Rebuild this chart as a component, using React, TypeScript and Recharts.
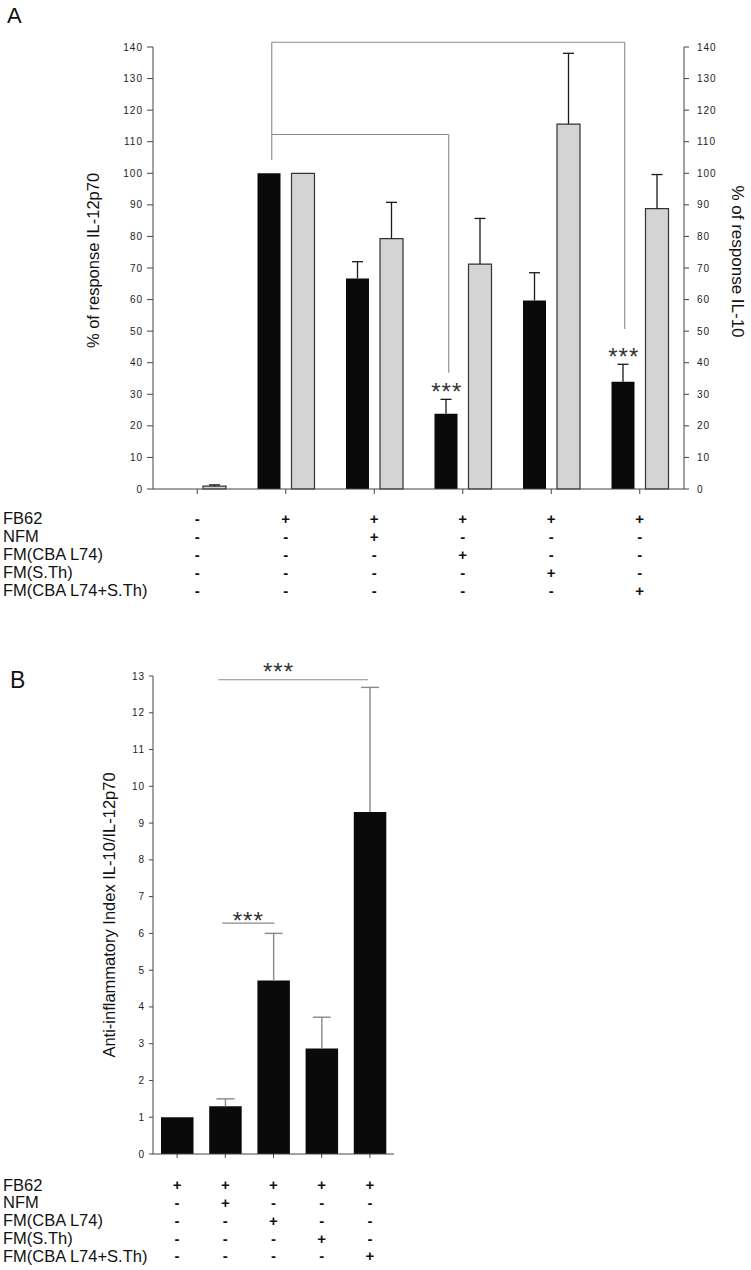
import { BarChart, Bar, XAxis, YAxis, ErrorBar, ReferenceLine, ReferenceDot } from 'recharts';

// panel A: % of response, IL-12p70 (black, left axis) and IL-10 (grey, right axis)
const conditionsA = ['Medium', 'FB62', 'FB62+NFM', 'FB62+FM(CBA L74)', 'FB62+FM(S.Th)', 'FB62+FM(CBA L74+S.Th)'];
const il12Pct = [0, 100, 66.7, 23.8, 59.7, 34.0];
const il12Sem = [null, null, 5.3, 4.6, 8.8, 5.5];
const il10Pct = [0.9, 100, 79.3, 71.2, 115.6, 88.8];
const il10Sem = [0.4, null, 11.5, 14.5, 22.4, 10.8];
const ticksA = [0, 10, 20, 30, 40, 50, 60, 70, 80, 90, 100, 110, 120, 130, 140];

// panel B: anti-inflammatory index IL-10/IL-12p70
const conditionsB = ['FB62', 'FB62+NFM', 'FB62+FM(CBA L74)', 'FB62+FM(S.Th)', 'FB62+FM(CBA L74+S.Th)'];
const indexB = [1.0, 1.3, 4.72, 2.87, 9.3];
const indexSem = [null, 0.2, 1.28, 0.85, 3.39];
const ticksB = [0, 1, 2, 3, 4, 5, 6, 7, 8, 9, 10, 11, 12, 13];

// treatment table under each panel
const rowLabels = ['FB62', 'NFM', 'FM(CBA L74)', 'FM(S.Th)', 'FM(CBA L74+S.Th)'];
const signsA = [
  ['-', '+', '+', '+', '+', '+'],
  ['-', '-', '+', '-', '-', '-'],
  ['-', '-', '-', '+', '-', '-'],
  ['-', '-', '-', '-', '+', '-'],
  ['-', '-', '-', '-', '-', '+'],
];
const signsB = [
  ['+', '+', '+', '+', '+'],
  ['-', '+', '-', '-', '-'],
  ['-', '-', '+', '-', '-'],
  ['-', '-', '-', '+', '-'],
  ['-', '-', '-', '-', '+'],
];

// one-sided (upper) error bars
const dataA = conditionsA.map((c, i) => ({
  c,
  il12: il12Pct[i],
  il12Err: il12Sem[i] == null ? null : [0, il12Sem[i]],
  il10: il10Pct[i],
  il10Err: il10Sem[i] == null ? null : [0, il10Sem[i]],
}));

const dataB = conditionsB.map((c, i) => ({
  c,
  idx: indexB[i],
  idxErr: indexSem[i] == null ? null : [0, indexSem[i]],
}));

const FONT = '"Liberation Sans", Arial, Helvetica, sans-serif';
const AXIS = '#444';
const BRACKET = '#8a8a8a';

function signTick(cats: string[], rows: string[][], first: number, step: number) {
  return (p: any) => {
    const i = cats.indexOf(p.payload.value);
    return (
      <g>
        {rows.map((r, k) => (
          <text key={k} x={p.x} y={p.y + first + k * step} textAnchor="middle" fontSize={15} fontWeight="bold" fill="#111">
            {r[i]}
          </text>
        ))}
      </g>
    );
  };
}

const seg = (dx1: number, dx2: number) => (p: any) =>
  <line x1={p.x1 + dx1} y1={p.y1} x2={p.x2 + dx2} y2={p.y2} stroke={BRACKET} strokeWidth={1.1} />;

const stars = (dx: number) => (p: any) => (
  <text x={p.cx + dx} y={p.cy + 13} textAnchor="middle" fontSize={24} letterSpacing={1} fill="#333">***</text>
);

const tickStyle = { fontSize: 10, fill: '#222', letterSpacing: 1 };

function PanelA() {
  return (
    <BarChart width={751} height={610} data={dataA} margin={{ top: 47, right: 7, bottom: 11, left: 93 }} barSize={23} barGap={11}>
      <XAxis dataKey="c" height={110} interval={0} tickSize={5} tickMargin={0} stroke={AXIS}
        tick={signTick(conditionsA, signsA, 30, 17.9)} />
      <YAxis yAxisId="l" width={60} domain={[0, 140]} ticks={ticksA} interval={0} tickSize={6} tickMargin={4}
        stroke={AXIS} tick={tickStyle} />
      <YAxis yAxisId="r" orientation="right" width={60} domain={[0, 140]} ticks={ticksA} interval={0} tickSize={5}
        tickMargin={8} stroke={AXIS} tick={tickStyle} />
      <Bar yAxisId="l" dataKey="il12" fill="#0a0a0a" isAnimationActive={false}>
        <ErrorBar dataKey="il12Err" width={5.5} stroke="#1a1a1a" strokeWidth={1.3} direction="y" />
      </Bar>
      <Bar yAxisId="r" dataKey="il10" fill="#d4d4d4" stroke="#333" strokeWidth={1.2} isAnimationActive={false}>
        <ErrorBar dataKey="il10Err" width={5.5} stroke="#1a1a1a" strokeWidth={1.3} direction="y" />
      </Bar>
      <ReferenceLine yAxisId="l" ifOverflow="visible" segment={[{ x: 'FB62', y: 141.5 }, { x: conditionsA[5], y: 141.5 }]} shape={seg(-14, -15)} />
      <ReferenceLine yAxisId="l" ifOverflow="visible" segment={[{ x: 'FB62', y: 141.5 }, { x: 'FB62', y: 104.2 }]} shape={seg(-14, -14)} />
      <ReferenceLine yAxisId="l" ifOverflow="visible" segment={[{ x: conditionsA[5], y: 141.5 }, { x: conditionsA[5], y: 50.7 }]} shape={seg(-15, -15)} />
      <ReferenceLine yAxisId="l" ifOverflow="visible" segment={[{ x: 'FB62', y: 112.3 }, { x: conditionsA[3], y: 112.3 }]} shape={seg(-14, -14)} />
      <ReferenceLine yAxisId="l" ifOverflow="visible" segment={[{ x: conditionsA[3], y: 112.3 }, { x: conditionsA[3], y: 36.8 }]} shape={seg(-14, -14)} />
      <ReferenceDot yAxisId="l" x={conditionsA[3]} y={32.4} ifOverflow="visible" shape={stars(-16)} />
      <ReferenceDot yAxisId="l" x={conditionsA[5]} y={43.4} ifOverflow="visible" shape={stars(-16)} />
    </BarChart>
  );
}

function PanelB() {
  return (
    <BarChart width={751} height={630} data={dataB} margin={{ top: 36, right: 357, bottom: 6, left: 93 }} barSize={32.5}>
      <XAxis dataKey="c" height={110} interval={0} tickSize={4} tickMargin={0} stroke={AXIS}
        tick={signTick(conditionsB, signsB, 32.4, 17.7)} />
      <YAxis width={60} domain={[0, 13]} ticks={ticksB} interval={0} tickSize={4} tickMargin={4} stroke={AXIS} tick={tickStyle} />
      <Bar dataKey="idx" fill="#0a0a0a" isAnimationActive={false}>
        <ErrorBar dataKey="idxErr" width={9} stroke="#888" strokeWidth={1.4} direction="y" />
      </Bar>
      <ReferenceLine ifOverflow="visible" segment={[{ x: conditionsB[1], y: 12.9 }, { x: conditionsB[4], y: 12.9 }]} shape={seg(-7, -2)} />
      <ReferenceLine ifOverflow="visible" segment={[{ x: conditionsB[1], y: 6.28 }, { x: conditionsB[2], y: 6.28 }]} shape={seg(-3, 1)} />
      <ReferenceDot x={conditionsB[2]} y={13.25} ifOverflow="visible" shape={stars(5)} />
      <ReferenceDot x={conditionsB[1]} y={6.48} ifOverflow="visible" shape={stars(23)} />
    </BarChart>
  );
}

export default function App() {
  return (
    <div style={{ position: 'absolute', left: 0, top: 0, width: 751, height: 1270, background: '#fff', fontFamily: FONT }}>
      {/* errors are one-sided: hide the cap that sits on the bar top */}
      <style>{'.recharts-errorBar line:nth-of-type(3){display:none}'}</style>
      <div style={{ position: 'absolute', left: 0, top: 0 }}>
        <PanelA />
      </div>
      <div style={{ position: 'absolute', left: 0, top: 640 }}>
        <PanelB />
      </div>
      <svg width={751} height={1270} style={{ position: 'absolute', left: 0, top: 0, pointerEvents: 'none' }} fontFamily={FONT}>
        <text x={7} y={23} fontSize={22} fill="#111">A</text>
        <text x={10} y={688} fontSize={23} fill="#111">B</text>
        <text transform="translate(99 260.5) rotate(-90)" textAnchor="middle" fontSize={16.5} fill="#111">% of response IL-12p70</text>
        <text transform="translate(732 261.5) rotate(90)" textAnchor="middle" fontSize={17} fill="#111">% of response IL-10</text>
        <text transform="translate(115 915) rotate(-90)" textAnchor="middle" fontSize={16.5} fill="#111">Anti-inflammatory Index IL-10/IL-12p70</text>
        {rowLabels.map((l, k) => (
          <text key={'a' + k} x={3} y={524 + k * 17.9} fontSize={16.5} fill="#111">{l}</text>
        ))}
        {rowLabels.map((l, k) => (
          <text key={'b' + k} x={3} y={1190.7 + k * 17.7} fontSize={16.5} fill="#111">{l}</text>
        ))}
      </svg>
    </div>
  );
}
